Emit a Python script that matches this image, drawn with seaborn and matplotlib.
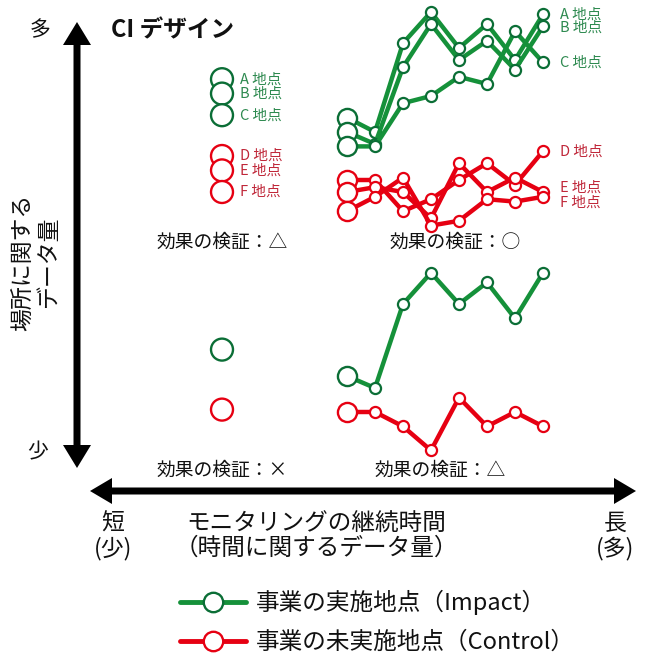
import numpy as np
import pandas as pd
import matplotlib
matplotlib.use('Agg')
import matplotlib.pyplot as plt
import seaborn as sns
from matplotlib.patches import FancyArrow
from matplotlib.lines import Line2D

### data (arbitrary 0-100 scale)
time = [1, 2, 3, 4, 5, 6, 7, 8]

# long monitoring, many sites (CI design)
site_a = [51, 45, 82, 95, 80, 90, 75, 94]
site_b = [45, 40, 72, 90, 75, 83, 71, 89]
site_c = [39, 39, 57, 60, 68, 65, 87, 74]
site_d = [25, 25, 12, 17, 25, 32, 23, 37]
site_e = [20, 22, 20, 9, 32, 20, 26, 20]
site_f = [12, 18, 26, 6, 8, 17, 16, 18]
impact_sites = ['A', 'B', 'C']
control_sites = ['D', 'E', 'F']

# short monitoring, many sites (single survey)
short_impact = [67, 61, 52]
short_control = [35, 29, 20]

# long monitoring, one site each
one_impact = [35, 30, 65, 78, 65, 74, 59, 78]
one_control = [20, 20, 14, 4, 26, 14, 20, 14]

# short monitoring, one site each
one_short_impact = [46]
one_short_control = [21]

legend_labels = ['事業の実施地点（Impact）', '事業の未実施地点（Control）']

### styles
green = '#15913a'
green_edge = '#0b6e36'
green_txt = '#2e8a50'
red = '#e60012'
red_edge = '#e60012'
red_txt = '#c0283a'
W, H = 646, 656

sns.set_theme(style='white')
plt.rcParams['font.family'] = ['Noto Sans CJK JP', 'DejaVu Sans']

fig = plt.figure(figsize=(W / 100, H / 100), dpi=100)


def px_axes(x0, y0, x1, y1):
    a = fig.add_axes([x0 / W, 1 - y1 / H, (x1 - x0) / W, (y1 - y0) / H])
    a.set_axis_off()
    a.patch.set_visible(False)
    return a


ax = fig.add_axes([0, 0, 1, 1])
ax.set_xlim(0, W)
ax.set_ylim(H, 0)
ax.set_axis_off()


def draw_lines(a, frame, color, edge):
    pal = {s: color for s in frame['site'].unique()}
    sns.lineplot(data=frame, x='t', y='v', hue='site', palette=pal, ax=a,
                 estimator=None, sort=False, legend=False, lw=3.2,
                 marker='o', markersize=8, markerfacecolor='white',
                 markeredgecolor=edge, markeredgewidth=1.6, zorder=3)
    first = frame[frame['t'] == frame['t'].min()]
    sns.scatterplot(data=first, x='t', y='v', ax=a, s=190, color='white',
                    edgecolor=edge, linewidth=1.7, zorder=4, legend=False)


def long_df(values, names):
    rows = []
    for name, vals in zip(names, values):
        for t, v in zip(time, vals):
            rows.append({'site': name, 't': t, 'v': v})
    return pd.DataFrame(rows)


#%% upper right: CI design
ax_tr = px_axes(330, 0, 560, 240)
df_imp = long_df([site_a, site_b, site_c], impact_sites)
df_ctl = long_df([site_d, site_e, site_f], control_sites)
draw_lines(ax_tr, df_imp, green, green_edge)
draw_lines(ax_tr, df_ctl, red, red_edge)
ax_tr.set_xlim(0.393, 8.607)
ax_tr.set_ylim(0, 100)
ax_tr.set_xlabel('')
ax_tr.set_ylabel('')
label_dy = {'A': 0, 'B': -1, 'C': 0, 'D': 0, 'E': 3, 'F': -4}
for name, vals, col in zip(impact_sites + control_sites,
                           [site_a, site_b, site_c, site_d, site_e, site_f],
                           [green_txt] * 3 + [red_txt] * 3):
    ax_tr.annotate(name + ' 地点', xy=(time[-1], vals[-1]), xytext=(12, label_dy[name]),
                   textcoords='offset points', va='center', ha='left',
                   color=col, fontsize=10.5, annotation_clip=False)

#%% upper left: single survey, many sites
ax_tl = px_axes(202, 0, 242, 240)
ax_tl.set_xlim(-1, 1)
ax_tl.set_ylim(0, 100)
sl = pd.DataFrame({'x': [0] * 6, 'v': short_impact + short_control,
                   'grp': ['i'] * 3 + ['c'] * 3})
sns.scatterplot(data=sl, x='x', y='v', hue='grp', palette={'i': 'white', 'c': 'white'},
                ax=ax_tl, s=250, edgecolor=[green_edge] * 3 + [red_edge] * 3,
                linewidth=1.7, legend=False)
for name, v, col in zip(impact_sites + control_sites, short_impact + short_control,
                        [green_txt] * 3 + [red_txt] * 3):
    ax_tl.annotate(name + ' 地点', xy=(0, v), xytext=(13, 0), textcoords='offset points',
                   va='center', ha='left', color=col, fontsize=10.5, annotation_clip=False)
ax_tl.set_xlabel('')
ax_tl.set_ylabel('')

#%% lower right: one site each, long
ax_br = px_axes(330, 220, 560, 460)
draw_lines(ax_br, long_df([one_impact], ['I']), green, green_edge)
draw_lines(ax_br, long_df([one_control], ['C']), red, red_edge)
ax_br.set_xlim(0.393, 8.607)
ax_br.set_ylim(0, 100)
ax_br.set_xlabel('')
ax_br.set_ylabel('')

#%% lower left: one site each, short
ax_bl = px_axes(202, 220, 242, 460)
ax_bl.set_xlim(-1, 1)
ax_bl.set_ylim(0, 100)
sns.scatterplot(x=[0, 0], y=one_short_impact + one_short_control, ax=ax_bl, s=250,
                color='white', edgecolor=[green_edge, red_edge], linewidth=1.7, legend=False)

#%% axes arrows
arrow_kw = dict(width=7, head_width=28, head_length=23, length_includes_head=True,
                color='black', lw=0)
ax.add_patch(FancyArrow(77, 250, 0, -228, **arrow_kw))
ax.add_patch(FancyArrow(77, 250, 0, 218, **arrow_kw))
arrow_kw['head_width'] = 26
arrow_kw['head_length'] = 22
ax.add_patch(FancyArrow(363, 491, -273, 0, **arrow_kw))
ax.add_patch(FancyArrow(363, 491, 273, 0, **arrow_kw))

#%% texts
txt = '#111111'
ax.text(40, 30, '多', fontsize=15, ha='center', va='center', color=txt)
ax.text(38, 452, '少', fontsize=15, ha='center', va='center', color=txt)
ax.text(111, 30, 'CI デザイン', fontsize=17, fontweight='bold', ha='left', va='center', color=txt)
ax.text(36, 262, '場所に関する\nデータ量', fontsize=16.5, rotation=90, ha='center', va='center',
        multialignment='center', linespacing=1.1, color=txt)

ax.text(222, 242, '効果の検証：△', fontsize=13.5, ha='center', va='center', color=txt)
ax.text(455, 242, '効果の検証：○', fontsize=13.5, ha='center', va='center', color=txt)
ax.text(222, 470, '効果の検証：×', fontsize=13.5, ha='center', va='center', color=txt)
ax.text(440, 470, '効果の検証：△', fontsize=13.5, ha='center', va='center', color=txt)

ax.text(113, 536, '短\n(少)', fontsize=16.5, ha='center', va='center', linespacing=1.1, color=txt)
ax.text(615, 536, '長\n(多)', fontsize=16.5, ha='center', va='center', linespacing=1.1, color=txt)
ax.text(316, 536, 'モニタリングの継続時間\n（時間に関するデータ量）', fontsize=17,
        ha='center', va='center', linespacing=1.05, color=txt)

#%% legend
handles = [Line2D([], [], color=green, lw=3.5, marker='o', ms=14, mfc='white', mec=green_edge, mew=1.7),
           Line2D([], [], color=red, lw=3.5, marker='o', ms=14, mfc='white', mec=red_edge, mew=1.7)]
ax.legend(handles, legend_labels, loc='upper left', bbox_to_anchor=(180, 590),
          bbox_transform=ax.transData, frameon=False, fontsize=17, handlelength=2.8,
          handletextpad=0.4, labelspacing=0.66, borderpad=0, borderaxespad=0,
          labelcolor=txt)

fig.savefig('out.png', dpi=100, facecolor='white')
